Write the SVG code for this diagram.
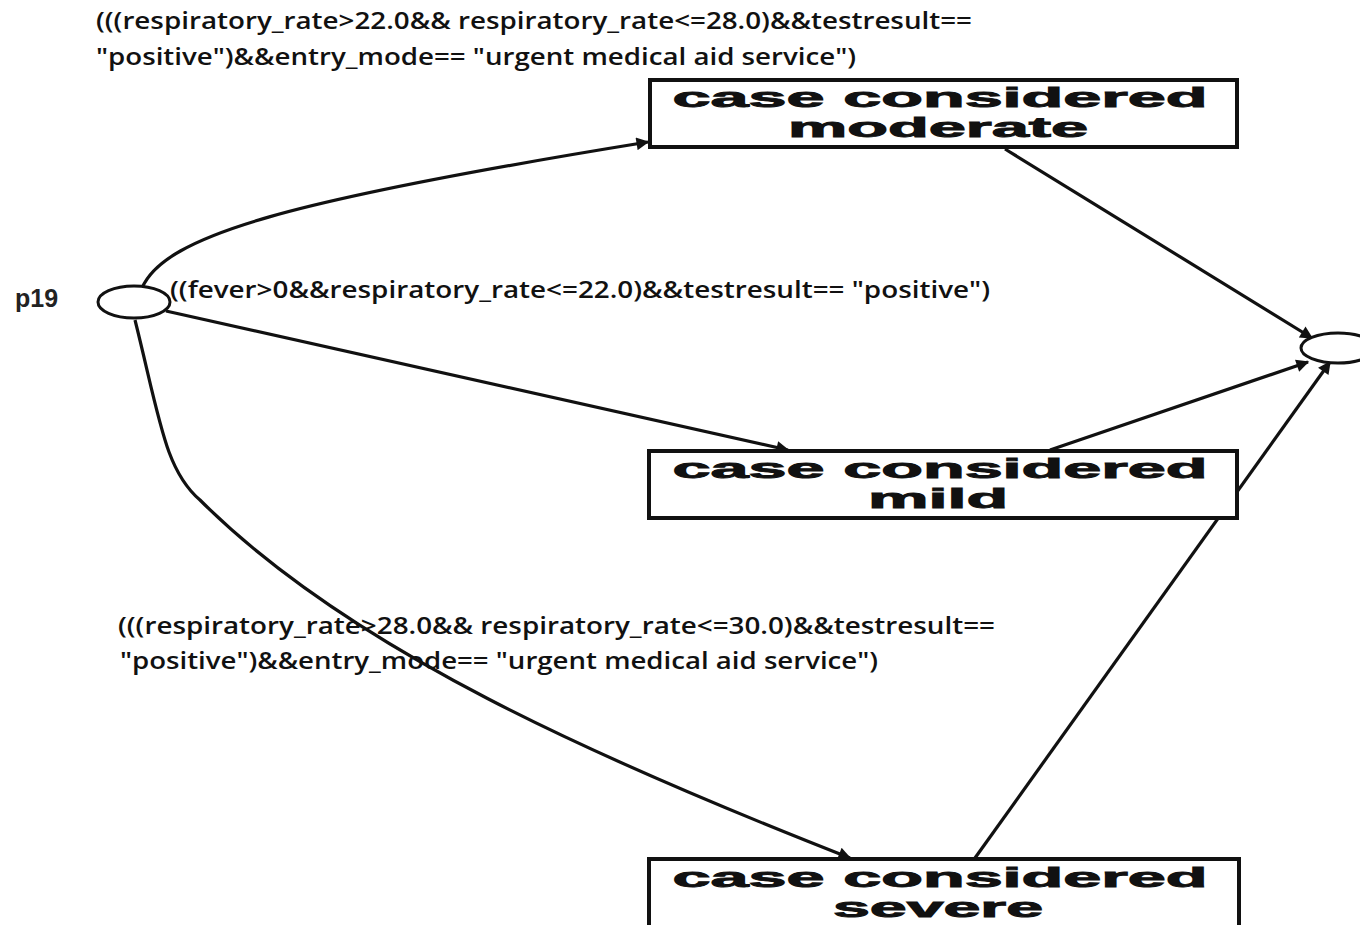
<svg xmlns="http://www.w3.org/2000/svg" width="1360" height="925" viewBox="0 0 1360 925">
  <style>
    .edge { fill: none; stroke: #111; stroke-width: 3.2; marker-end: url(#arrow); }
    .box { fill: #fff; stroke: #111; stroke-width: 4; }
    .place { fill: #fff; stroke: #111; stroke-width: 3; }
    .boxtext { font-family: "Liberation Sans", Arial, sans-serif; font-weight: 900; font-size: 27px; fill: #111; text-anchor: middle; stroke: #111; stroke-width: 0.9; }
    .guard { font-family: "Open Sans", "Liberation Sans", sans-serif; font-weight: 600; font-size: 23px; fill: #111; }
    .pname { font-family: "Liberation Sans", Arial, sans-serif; font-weight: bold; font-size: 25px; fill: #222; }
  </style>
  <defs>
    <marker id="arrow" viewBox="0 0 10 10" refX="9" refY="5" markerWidth="5" markerHeight="4" orient="auto" markerUnits="strokeWidth">
      <path d="M0,0 L10,5 L0,10 z" fill="#111"/>
    </marker>
  </defs>
  <rect width="1360" height="925" fill="#fff"/>

  <!-- arcs between places and transitions -->
  <g id="connectors">
    <path class="edge" d="M142,288 C165,235 290,200 648,142"/>
    <path class="edge" d="M166,311 L788,450"/>
    <path class="edge" d="M135,320 C160,420 165,470 200,500 C350,650 600,760 850,858"/>
    <path class="edge" d="M1005,149 L1312,338"/>
    <path class="edge" d="M1050,450 L1308,362"/>
    <path class="edge" d="M975,858 L1330,362"/>
  </g>

  <g id="p19">
    <ellipse class="place" cx="134" cy="302" rx="36" ry="16"/>
    <text class="pname" x="15" y="307">p19</text>
  </g>

  <g id="sink">
    <ellipse class="place" cx="1338" cy="348" rx="37" ry="15"/>
  </g>

  <g id="moderate">
    <rect class="box" x="650" y="80" width="587" height="67"/>
    <text class="boxtext" x="940" y="107" textLength="535" lengthAdjust="spacingAndGlyphs">case considered</text>
    <text class="boxtext" x="938" y="137" textLength="300" lengthAdjust="spacingAndGlyphs">moderate</text>
  </g>

  <g id="mild">
    <rect class="box" x="649" y="451" width="588" height="67"/>
    <text class="boxtext" x="940" y="478" textLength="535" lengthAdjust="spacingAndGlyphs">case considered</text>
    <text class="boxtext" x="938" y="508" textLength="140" lengthAdjust="spacingAndGlyphs">mild</text>
  </g>

  <g id="severe">
    <rect class="box" x="649" y="859" width="590" height="80"/>
    <text class="boxtext" x="940" y="887" textLength="535" lengthAdjust="spacingAndGlyphs">case considered</text>
    <text class="boxtext" x="938" y="917" textLength="210" lengthAdjust="spacingAndGlyphs">severe</text>
  </g>

  <g id="guards">
    <text class="guard" x="96" y="29" textLength="876" lengthAdjust="spacingAndGlyphs">(((respiratory_rate&gt;22.0&amp;&amp; respiratory_rate&lt;=28.0)&amp;&amp;testresult==</text>
    <text class="guard" x="96" y="65" textLength="760" lengthAdjust="spacingAndGlyphs">"positive")&amp;&amp;entry_mode== "urgent medical aid service")</text>
    <text class="guard" x="170" y="298" textLength="820" lengthAdjust="spacingAndGlyphs">((fever&gt;0&amp;&amp;respiratory_rate&lt;=22.0)&amp;&amp;testresult== "positive")</text>
    <text class="guard" x="118" y="634" textLength="877" lengthAdjust="spacingAndGlyphs">(((respiratory_rate&gt;28.0&amp;&amp; respiratory_rate&lt;=30.0)&amp;&amp;testresult==</text>
    <text class="guard" x="120" y="669" textLength="758" lengthAdjust="spacingAndGlyphs">"positive")&amp;&amp;entry_mode== "urgent medical aid service")</text>
  </g>
</svg>
